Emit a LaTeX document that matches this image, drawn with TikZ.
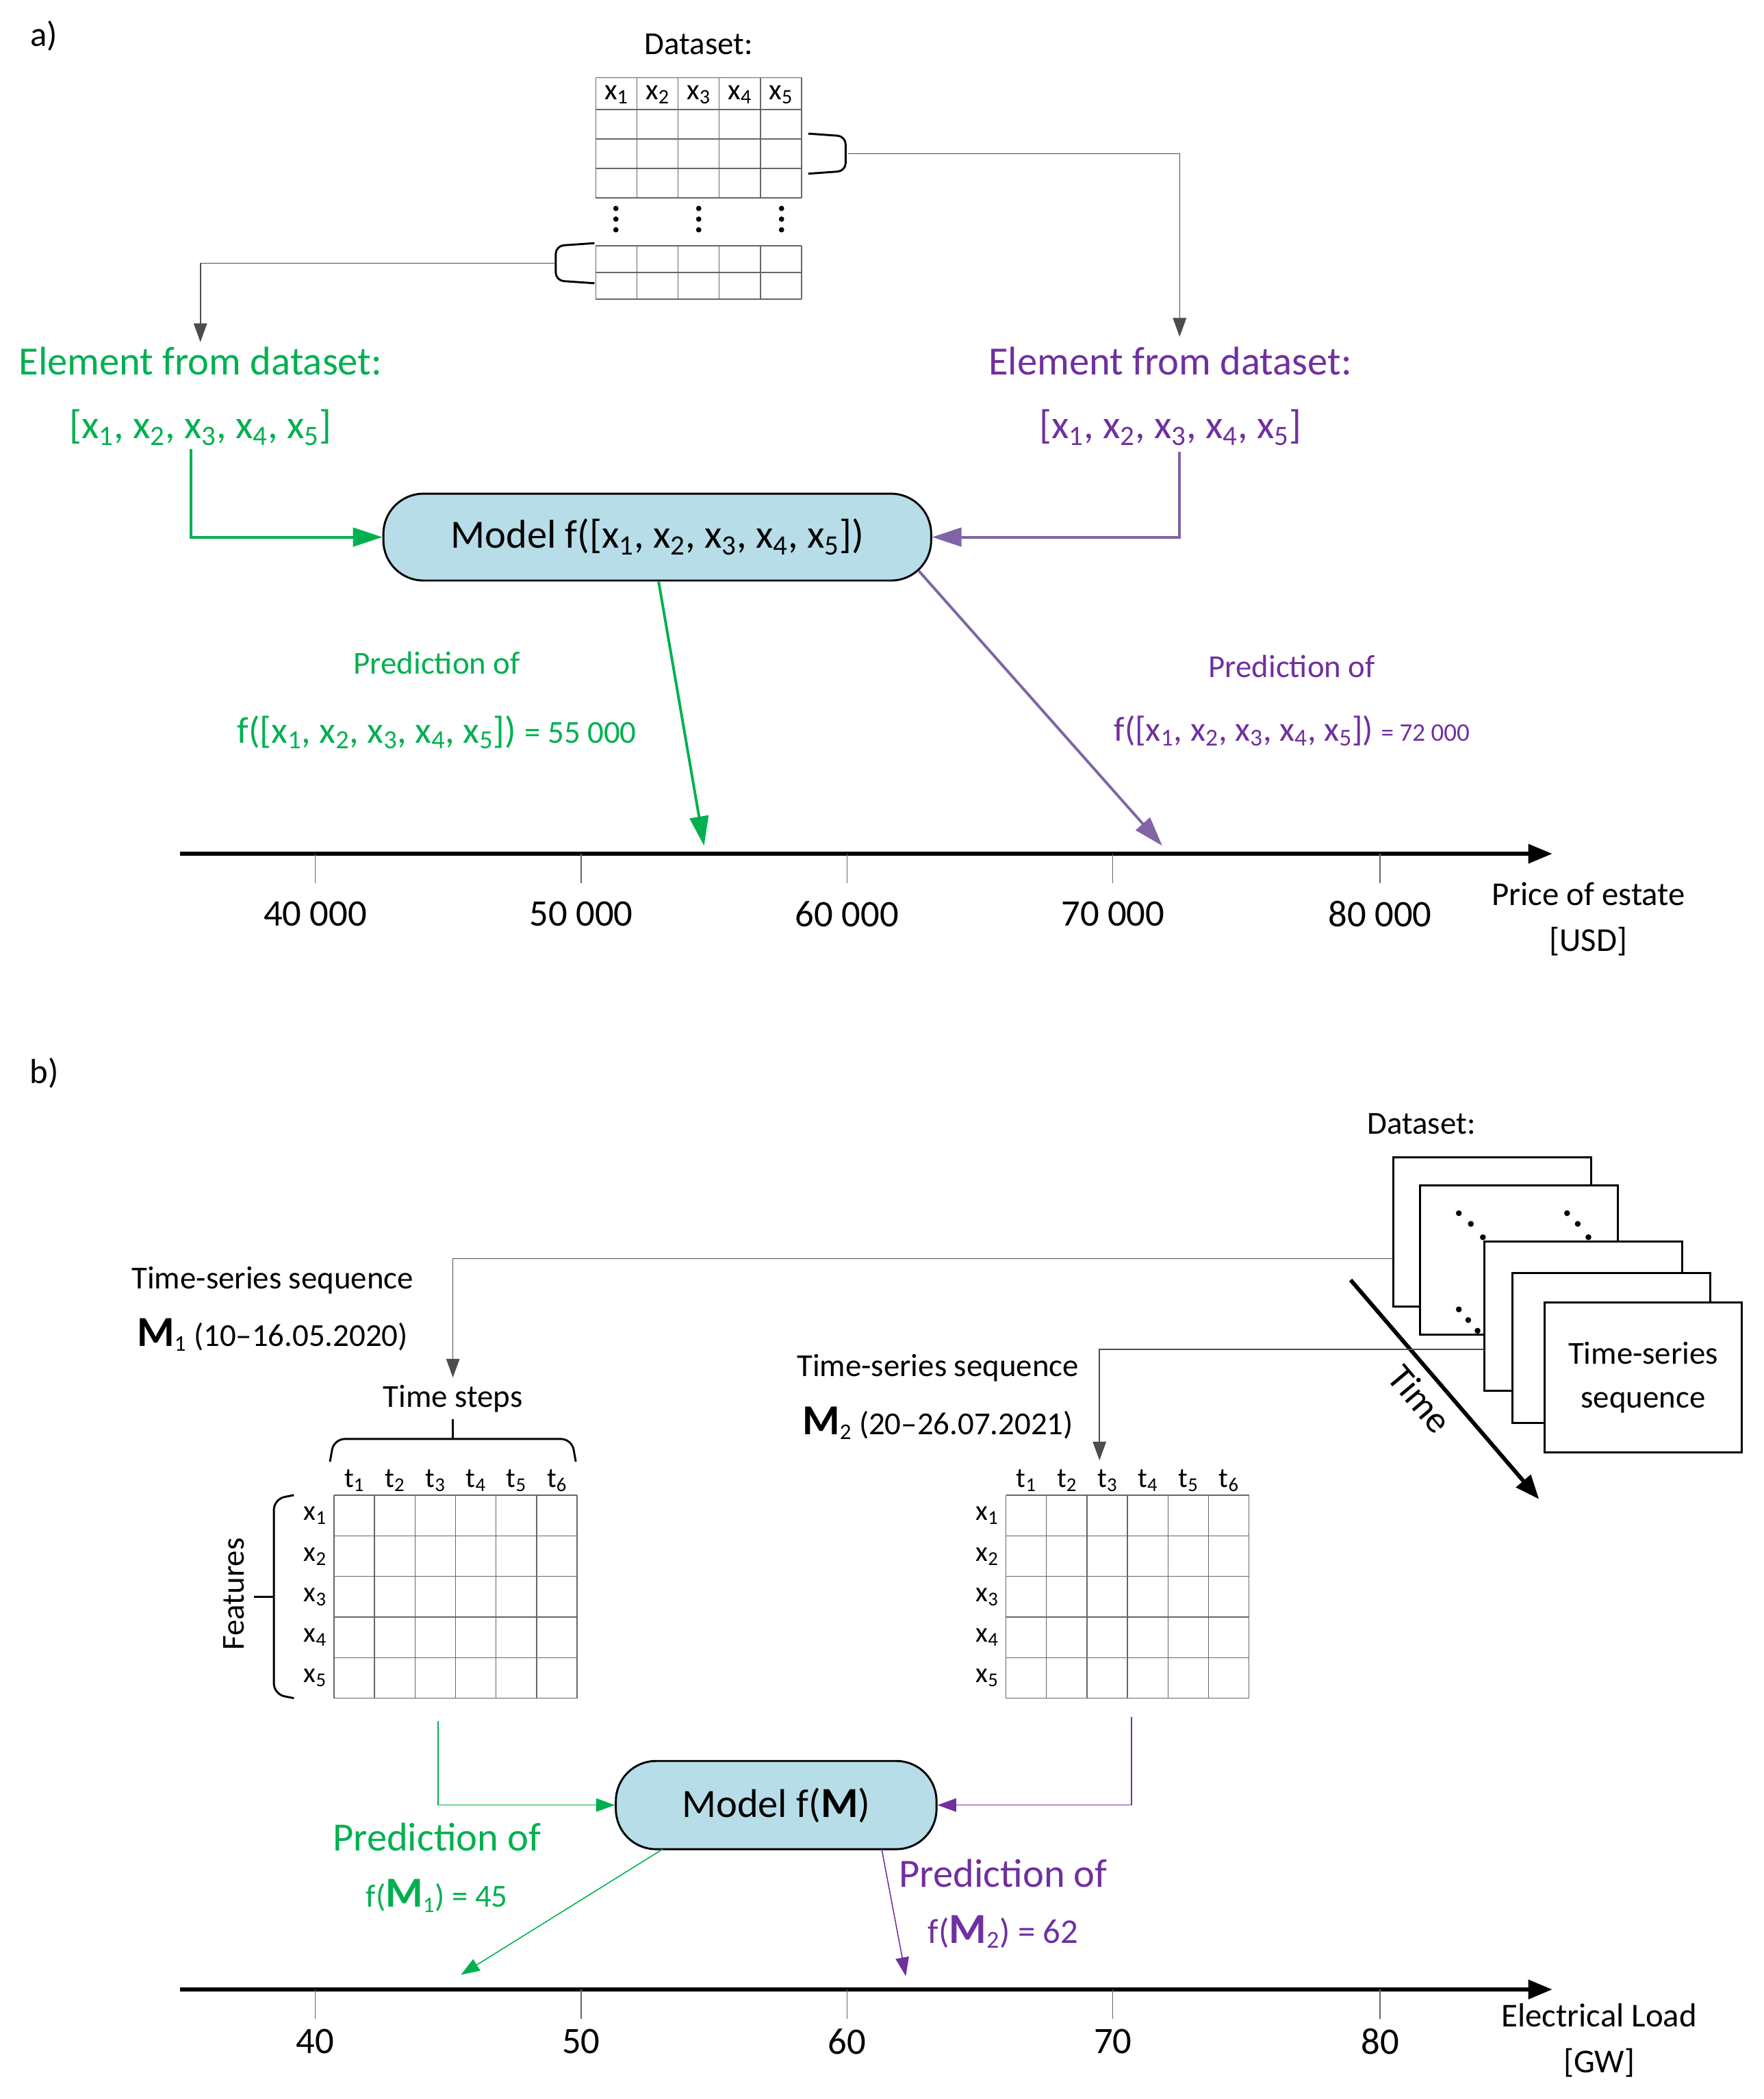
\documentclass[tikz,border=0pt]{standalone}
\usepackage{fontspec}
\setmainfont{Carlito}
\usetikzlibrary{arrows.meta,decorations.pathreplacing}
\definecolor{grn}{RGB}{0,176,80}
\definecolor{prp}{RGB}{112,48,160}
\definecolor{prpl}{RGB}{128,100,165}
\definecolor{mdl}{RGB}{183,221,232}
\newcommand{\xs}[1]{x\textsubscript{#1}}
\newcommand{\ts}[1]{t\textsubscript{#1}}
\newcommand{\fs}[1]{\fontsize{#1}{1.3\dimexpr#1pt\relax}\selectfont}
\tikzset{every picture/.style={line width=0.75pt},
  thin line/.style={draw=black!70,line width=0.8pt},
  grid line/.style={draw=black!60,line width=0.7pt},
  model/.style={draw,line width=1.5pt,fill=mdl,rounded corners=30pt,inner sep=0pt},
  axis/.style={line width=3pt,-{Triangle[length=18pt,width=14pt]}},
  tip/.style={-{Triangle[length=14pt,width=10pt]}},
  big tip/.style={-{Triangle[length=22pt,width=14pt]}}}

\begin{document}
\begin{tikzpicture}[x=1pt,y=1pt,yscale=-1,xscale=1]
\useasboundingbox (0,0) rectangle (1320,1571);

%%%%% part a
\node at (33,27) {\fs{26}a)};
\node (dsa) at (523,33) {\fs{24}Dataset:};
% table top
\foreach \i in {0,...,5} \draw[grid line] (446+30.8*\i,58) -- (446+30.8*\i,148);
\foreach \y in {58,82,104,126,148} \draw[grid line] (446,\y) -- (600,\y);
\foreach \i in {1,...,5} \node at (446+30.8*\i-15.4,71) {\fs{22}\xs{\i}};
% dots
\foreach \x in {461,523,585} \foreach \y in {156,164,172} \fill (\x,\y) circle (2pt);
% table bottom
\foreach \i in {0,...,5} \draw[grid line] (446+30.8*\i,184) -- (446+30.8*\i,224);
\foreach \y in {184,204,224} \draw[grid line] (446,\y) -- (600,\y);
% brackets
\draw[line width=1.5pt,rounded corners=6pt] (605,100) -- (633,102) -- (633,128) -- (605,130);
\draw[line width=1.5pt,rounded corners=6pt] (445,182) -- (416,184) -- (416,210) -- (445,212);
\coordinate (bra) at (635,115);
\coordinate (brb) at (415,197);
% element labels
\node[text=grn] (ela) at (150,270) {\fs{30}Element from dataset:};
\node[text=grn] (vea) at (150,320) {\fs{30}[\xs1, \xs2, \xs3, \xs4, \xs5]};
\node[text=prp] (elb) at (876,270) {\fs{30}Element from dataset:};
\node[text=prp] (veb) at (876,320) {\fs{30}[\xs1, \xs2, \xs3, \xs4, \xs5]};
\draw[thin line,tip] (bra) -| (883,252);
\draw[thin line,tip] (brb) -| (150,256);
% model
\node[model,minimum width=410pt,minimum height=65pt] (moda) at (492,402) {\fs{30}Model f([\xs1, \xs2, \xs3, \xs4, \xs5])};
\draw[grn,line width=2pt,big tip] (143,336) |- (moda.west);
\draw[prpl,line width=2pt,big tip] (883,338) |- (moda.east);
% axis
\coordinate (axa0) at (135,639);
\coordinate (axa1) at (1162,639);
\draw[axis] (axa0) -- (axa1);
\foreach \x/\l in {236/40 000,435/50 000,634/60 000,833/70 000,1033/80 000}{
  \draw[grid line] (\x,639) -- (\x,661);
  \node at (\x,684) {\fs{28}\l};}
\node[align=center,font=\fs{25}] at (1189,688) {Price of estate\\[2pt]{}[USD]};
% predictions
\coordinate (pga) at (527,633);
\coordinate (ppa) at (870,633);
\draw[grn,line width=2pt,big tip] (moda.south) ++(1,0) -- (pga);
\draw[prpl,line width=2pt,big tip] (moda.south east) ++(-10,-8) -- (ppa);
\node[text=grn] at (327,496) {\fs{24}Prediction of};
\node[text=grn] at (327,548) {\fs{28}f([\xs1, \xs2, \xs3, \xs4, \xs5]) {\fs{24}= 55 000}};
\node[text=prp] at (967,499) {\fs{24}Prediction of};
\node[text=prp] at (967,547) {\fs{26}f([\xs1, \xs2, \xs3, \xs4, \xs5]) {\fs{19}= 72 000}};

%%%%% part b
\node at (33,803) {\fs{26}b)};
\node at (1064,841) {\fs{24}Dataset:};
\foreach \x/\y in {1043/866,1063/887,1111/929,1132/953}
  \draw[line width=1.5pt,fill=white] (\x,\y) rectangle ++(148,112);
\node[draw,line width=1.5pt,fill=white,minimum width=148pt,minimum height=112pt,align=center,font=\fs{24}] (tsq) at (1230,1031) {Time-series\\[2pt]sequence};
\foreach \x/\y in {1092/908,1101/916,1110/926,1173/908,1181/916,1189/926,1092/980,1099/988,1106/996} \fill (\x,\y) circle (2.2pt);
\draw[line width=3pt,-{Triangle[length=18pt,width=14pt]}] (1011,958) -- (1152,1122);
\node[rotate=-50] at (1063,1047) {\fs{28}Time};
% sequence labels
\coordinate (sa) at (1043,942);
\coordinate (sb) at (1111,1010);
\draw[thin line,tip] (sa) -| (339,1031);
\draw[thin line,tip] (sb) -| (823,1093);
\node at (204,958) {\fs{24}Time-series sequence};
\node at (204,999) {\fs{24}{\fs{32}\textbf{M}}\textsubscript{1} (10–16.05.2020)};
\node at (702,1024) {\fs{24}Time-series sequence};
\node at (702,1065) {\fs{24}{\fs{32}\textbf{M}}\textsubscript{2} (20–26.07.2021)};
% grids
\foreach \gx in {250,753}{
  \foreach \i in {0,...,6} \draw[grid line] (\gx+30.33*\i,1119) -- (\gx+30.33*\i,1271);
  \foreach \j in {0,...,5} \draw[grid line] (\gx,1119+30.4*\j) -- (\gx+182,1119+30.4*\j);
  \foreach \i in {1,...,6} \node at (\gx+30.33*\i-15,1108) {\fs{21}\ts{\i}};
  \foreach \j in {1,...,5} \node at (\gx-14,1119+30.4*\j-15) {\fs{21}\xs{\j}};}
\node (tst) at (339,1047) {\fs{24}Time steps};
\draw[line width=1.5pt,rounded corners=8pt] (247,1094) -- (250,1077) -- (428,1077) -- (431,1094);
\draw[line width=1.5pt] (339,1077) -- (339,1062);
\draw[line width=1.5pt,rounded corners=8pt] (220,1119) -- (205,1122) -- (205,1268) -- (220,1271);
\draw[line width=1.5pt] (205,1195) -- (190,1195);
\node[rotate=90] at (175,1193) {\fs{24}Features};
% model
\node[model,minimum width=240pt,minimum height=66pt] (modb) at (581,1351) {\fs{30}Model f({\fs{32}\textbf{M}})};
\draw[grn,line width=0.8pt,tip] (328,1288) |- (modb.west);
\draw[prp,line width=0.8pt,tip] (847,1285) |- (modb.east);
% axis
\coordinate (axb0) at (135,1489);
\coordinate (axb1) at (1162,1489);
\draw[axis] (axb0) -- (axb1);
\foreach \x/\l in {236/40,435/50,634/60,833/70,1033/80}{
  \draw[grid line] (\x,1489) -- (\x,1511);
  \node at (\x,1528) {\fs{28}\l};}
\node[align=center,font=\fs{25}] at (1197,1527) {Electrical Load\\[2pt]{}[GW]};
% predictions
\coordinate (pgb) at (345,1478);
\coordinate (ppb) at (678,1479);
\draw[grn,line width=0.8pt,tip] (496,1384) -- (pgb);
\draw[prp,line width=0.8pt,tip] (660,1384) -- (ppb);
\node[text=grn] at (327,1375) {\fs{30}Prediction of};
\node[text=grn] at (327,1419) {\fs{24}f({\fs{32}\textbf{M}}\textsubscript{1}) = 45};
\node[text=prp] at (751,1402) {\fs{30}Prediction of};
\node[text=prp] at (751,1446) {\fs{26}f({\fs{32}\textbf{M}}\textsubscript{2}) = 62};
\end{tikzpicture}
\end{document}
